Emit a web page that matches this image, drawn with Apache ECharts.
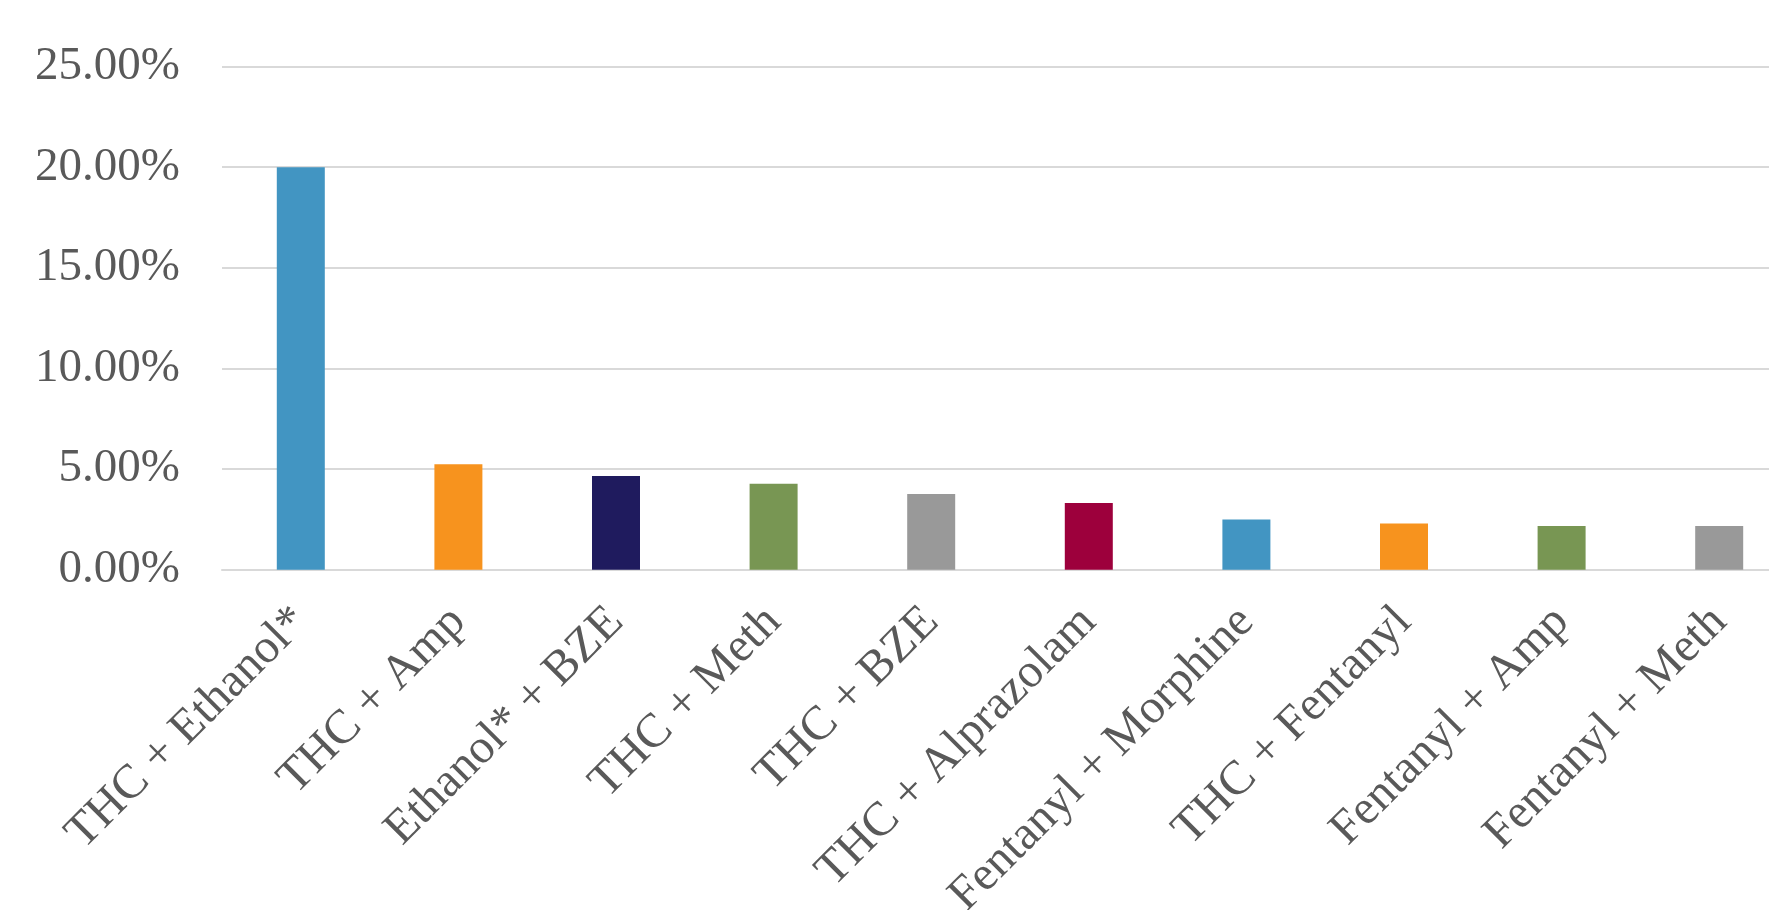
<!DOCTYPE html>
<html>
<head>
<meta charset="utf-8">
<script src="https://cdn.jsdelivr.net/npm/echarts@6/dist/echarts.min.js"></script>
<style>
  html, body { margin: 0; padding: 0; background: #ffffff; overflow: hidden; }
  #chart { width: 1769px; height: 910px; }
</style>
</head>
<body>
<div id="chart"></div>
<script>
const categories = [
  'THC + Ethanol*', 'THC + Amp', 'Ethanol* + BZE', 'THC + Meth', 'THC + BZE',
  'THC + Alprazolam', 'Fentanyl + Morphine', 'THC + Fentanyl', 'Fentanyl + Amp', 'Fentanyl + Meth'
];
const values = [20.0, 5.24, 4.66, 4.27, 3.76, 3.31, 2.50, 2.30, 2.17, 2.17];
const yTicks = { min: 0, max: 25, interval: 5 };
const barColors = ['#4295c2', '#f7931e', '#1f1b5e', '#789653', '#999999', '#9d003c', '#4295c2', '#f7931e', '#789653', '#999999'];

const chart = echarts.init(document.getElementById('chart'), null, { renderer: 'canvas' });
const font = 'Liberation Serif, Times New Roman, serif';
chart.setOption({
  animation: false,
  backgroundColor: '#ffffff',
  grid: { left: 222, right: -29, top: 66.6, bottom: 340.3, containLabel: false, outerBoundsMode: 'none' },
  xAxis: {
    type: 'category',
    data: categories,
    axisTick: { show: false },
    axisLine: { show: true, lineStyle: { color: '#d9d9d9', width: 2 } },
    axisLabel: {
      rotate: 45,
      interval: 0,
      margin: 45,
      color: '#595959',
      fontFamily: font,
      fontSize: 48
    }
  },
  yAxis: {
    type: 'value',
    min: yTicks.min,
    max: yTicks.max,
    interval: yTicks.interval,
    axisLine: { show: false },
    axisTick: { show: false },
    splitLine: { lineStyle: { color: '#d9d9d9', width: 2 } },
    axisLabel: {
      margin: 42,
      color: '#595959',
      fontFamily: font,
      fontSize: 47,
      formatter: v => v.toFixed(2) + '%'
    }
  },
  series: [{
    type: 'bar',
    barWidth: 48,
    data: values.map((v, i) => ({ value: v, itemStyle: { color: barColors[i] } }))
  }]
});
</script>
</body>
</html>
